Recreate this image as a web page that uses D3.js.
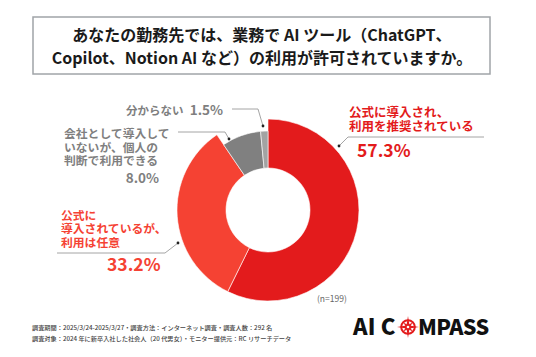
<!DOCTYPE html>
<html><head><meta charset="utf-8">
<script src="https://cdn.jsdelivr.net/npm/d3@7"></script>
<style>
html,body{margin:0;padding:0;background:#fff;}
text{font-family:"Noto Sans CJK JP","Noto Sans",sans-serif;}
</style></head>
<body><svg id="c" width="536" height="357"></svg>
<script>
const categories = ["公式に導入され、利用を推奨されている","公式に導入されているが、利用は任意","会社として導入していないが、個人の判断で利用できる","分からない"];
const values = [57.3, 33.2, 8.0, 1.5];
const valueLabels = ["57.3%","33.2%","8.0%","1.5%"];
const colors = ["#e31b1c","#f54233","#808080","#a3a3a3"];
const titleLines = ["あなたの勤務先では、業務で AI ツール（ChatGPT、","Copilot、Notion AI など）の利用が許可されていますか。"];
const footnotes = ["調査期間：2025/3/24-2025/3/27・調査方法：インターネット調査・調査人数：292 名","調査対象：2024 年に新卒入社した社会人（20 代男女）・モニター提供元：RC リサーチデータ"];
const sampleNote = "(n=199)";

const svg = d3.select("#c");
svg.append("rect").attr("x",33).attr("y",17).attr("width",457).attr("height",57)
  .attr("fill","#fff").attr("stroke","#a0a4a8").attr("stroke-width",1.5);
titleLines.forEach((s,i)=>svg.append("text")
  .attr("x",262).attr("y",41+i*23).attr("text-anchor","middle")
  .attr("font-size",16).attr("font-weight",700).attr("fill","#1a1a1a").text(s));

const cx=268, cy=210;
const g = svg.append("g").attr("transform",`translate(${cx},${cy})`);
const pie = d3.pie().sort(null).value(d=>d)(values);
const outerR = [91,91,79,79];
g.selectAll("path").data(pie).enter().append("path")
  .attr("d",(d,i)=>d3.arc().innerRadius(42).outerRadius(outerR[i])(d))
  .attr("fill",(d,i)=>colors[i]).attr("stroke","#fff").attr("stroke-width",0.6);

const leaders = [
  [[484,137],[348,137],[339,146]],
  [[57,253],[165,253],[178,243]],
  [[178,132],[225,132],[229,139]],
  [[232,109],[258,109],[263,126]]
];
leaders.forEach(pts=>{
  svg.append("path").attr("d",d3.line()(pts)).attr("fill","none").attr("stroke","#9a9a9a").attr("stroke-width",0.9);
  const e=pts[pts.length-1];
  svg.append("circle").attr("cx",e[0]).attr("cy",e[1]).attr("r",1.4).attr("fill","#222");
});

function multi(x,y,lines,size,color,dy){
  lines.forEach((s,i)=>svg.append("text").attr("x",x).attr("y",y+i*dy).attr("font-size",size).attr("font-weight",700)
    .attr("fill",color).text(s));
}
multi(349,117,["公式に導入され、","利用を推奨されている"],12.5,colors[0],13.5);
svg.append("text").attr("x",357).attr("y",157).attr("font-size",17.5).attr("font-weight",700).attr("fill",colors[0]).text(valueLabels[0]);
multi(61,220,["公式に","導入されているが、","利用は任意"],11.8,colors[1],13.3);
svg.append("text").attr("x",107).attr("y",271).attr("font-size",17.5).attr("font-weight",700).attr("fill",colors[1]).text(valueLabels[1]);
multi(64,138,["会社として導入して","いないが、個人の","判断で利用できる"],11.8,"#7f7f7f",13.5);
svg.append("text").attr("x",159).attr("y",183).attr("text-anchor","end").attr("font-size",13.5).attr("font-weight",700).attr("fill","#7f7f7f").text(valueLabels[2]);
svg.append("text").attr("x",126).attr("y",115).attr("font-size",11.5).attr("font-weight",700).attr("fill","#7f7f7f").text("分からない");
svg.append("text").attr("x",223).attr("y",115).attr("text-anchor","end").attr("font-size",13.5).attr("font-weight",700).attr("fill","#7f7f7f").text(valueLabels[3]);

svg.append("text").attr("x",317).attr("y",302).attr("font-size",8.5).attr("fill","#666").text(sampleNote);
footnotes.forEach((s,i)=>svg.append("text")
  .attr("x",32).attr("y",329.5+i*11).attr("font-size",6.2).attr("font-weight",500).attr("fill","#444").text(s));

// logo
const logo=svg.append("g");
logo.append("text").attr("x",353).attr("y",334.5).attr("font-family","Inter,'Noto Sans',sans-serif").attr("font-size",22).attr("font-weight",900).attr("fill","#111").attr("letter-spacing",0.2).text("AI C");
logo.append("text").attr("x",418).attr("y",334.5).attr("font-family","Inter,'Noto Sans',sans-serif").attr("font-size",21.5).attr("font-weight",900).attr("fill","#111").attr("letter-spacing",-0.6).text("MPASS");
const lg=logo.append("g").attr("transform","translate(408,327)");
lg.append("circle").attr("r",6.8).attr("fill","none").attr("stroke","#e31b1c").attr("stroke-width",2);
const star=(L,w,rot)=>{const p=[];for(let k=0;k<8;k++){const a=k*Math.PI/4+rot;const r=k%2?w:L;p.push([r*Math.sin(a),-r*Math.cos(a)]);}return p;};
lg.append("polygon").attr("points",star(6.5,2,Math.PI/4).join(" ")).attr("fill","#e31b1c");
lg.append("polygon").attr("points",star(11,2.2,0).join(" ")).attr("fill","#e31b1c");
lg.append("circle").attr("r",1.3).attr("fill","#fff");
</script></body></html>
